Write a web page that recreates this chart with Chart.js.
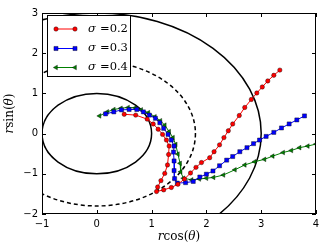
<!DOCTYPE html>
<html lang="en">
<head>
<meta charset="UTF-8">
<title>Spiral trajectories</title>
<script src="https://cdn.jsdelivr.net/npm/chart.js"></script>
<style>
  body { margin: 0; background: #fff; }
  canvas { display: block; }
</style>
</head>
<body>
<canvas id="plot" width="332" height="249"></canvas>
<script>
// tick values
const xTicks = [-1, 0, 1, 2, 3, 4];
const yTicks = [-2, -1, 0, 1, 2, 3];

// reference circles around the origin
const circleRadii = [1, 1.8, 3];
const circleDashed = [false, true, false];

// sigma = 0.2 (red circles)
const s02X = [0.50, 0.71, 0.92, 1.03, 1.12, 1.20, 1.27, 1.32, 1.31, 1.29, 1.24, 1.17, 1.11, 1.09,
              1.22, 1.36, 1.48, 1.60, 1.71, 1.81, 1.91, 2.06, 2.14, 2.24, 2.32, 2.40, 2.48, 2.60,
              2.70, 2.82, 2.92, 3.02, 3.12, 3.23, 3.34];
const s02Y = [0.48, 0.46, 0.36, 0.24, 0.11, -0.02, -0.16, -0.31, -0.52, -0.78, -0.99, -1.17, -1.33, -1.44,
              -1.40, -1.34, -1.26, -1.13, -0.98, -0.84, -0.72, -0.60, -0.45, -0.28, -0.10, 0.07, 0.24, 0.45,
              0.65, 0.85, 1.01, 1.16, 1.31, 1.45, 1.58];

// sigma = 0.3 (blue squares)
const s03X = [0.16, 0.31, 0.45, 0.59, 0.73, 0.85, 0.96, 1.07, 1.15, 1.22, 1.30, 1.36, 1.41, 1.40, 1.41,
              1.41, 1.42, 1.47, 1.62, 1.76, 1.88, 2.00, 2.12, 2.24, 2.37, 2.48, 2.61, 2.74, 2.86, 2.97,
              3.09, 3.23, 3.37, 3.51, 3.65, 3.79];
const s03Y = [0.49, 0.54, 0.59, 0.60, 0.60, 0.54, 0.46, 0.38, 0.27, 0.13, -0.02, -0.16, -0.31, -0.46, -0.68,
              -0.92, -1.12, -1.23, -1.22, -1.19, -1.08, -1.01, -0.93, -0.80, -0.66, -0.57, -0.45, -0.35, -0.25, -0.16,
              -0.07, 0.03, 0.14, 0.24, 0.34, 0.44];

// sigma = 0.4 (green triangles)
const s04X = [0.05, 0.19, 0.31, 0.44, 0.57, 0.70, 0.81, 0.94, 1.06, 1.16, 1.24, 1.32, 1.39, 1.44, 1.48,
              1.52, 1.53, 1.58, 1.73, 1.87, 2.00, 2.13, 2.31, 2.52, 2.70, 2.88, 3.06, 3.21, 3.40, 3.55,
              3.70, 3.85, 4.00];
const s04Y = [0.44, 0.54, 0.60, 0.63, 0.65, 0.64, 0.59, 0.52, 0.42, 0.32, 0.21, 0.05, -0.10, -0.27, -0.51,
              -0.74, -0.95, -1.11, -1.15, -1.13, -1.11, -1.09, -1.03, -0.90, -0.78, -0.70, -0.64, -0.56, -0.47, -0.42,
              -0.35, -0.31, -0.26];

const seriesLabels = ['0.2', '0.3', '0.4'];

function pts(xs, ys) {
    return xs.map((v, i) => ({ x: v, y: ys[i] }));
}

function series(xs, ys, color, style, radius, rotation) {
    return {
        data: pts(xs, ys),
        showLine: true,
        borderColor: color,
        borderWidth: 1,
        pointStyle: style,
        pointRadius: radius,
        pointRotation: rotation,
        pointBackgroundColor: color,
        pointBorderColor: '#000',
        pointBorderWidth: 0.4,
        pointHoverRadius: radius
    };
}

const datasets = [
    series(s02X, s02Y, '#ff0000', 'circle', 2.2, 0),
    series(s03X, s03Y, '#0000ff', 'rect', 2.9, 0),
    series(s04X, s04Y, '#008000', 'triangle', 2.7, -90)
];

const serif = '"DejaVu Serif", serif';
const sans = '"DejaVu Sans", sans-serif';

// draws a run of text pieces in different fonts, centred on x
function drawPieces(ctx, pieces, x, y) {
    let w = 0;
    pieces.forEach(p => { ctx.font = p.f; p.w = ctx.measureText(p.t).width; w += p.w; });
    let cx = x - w / 2;
    pieces.forEach(p => {
        ctx.font = p.f;
        ctx.fillText(p.t, cx, y);
        cx += p.w;
    });
}

function mathLabel(fn) {
    return [
        { t: 'r', f: 'italic 12px ' + serif },
        { t: fn, f: '12px ' + serif },
        { t: '(', f: '12px ' + serif },
        { t: '\u03b8', f: 'italic 12px ' + serif },
        { t: ')', f: '12px ' + serif }
    ];
}

const decor = {
    id: 'decor',
    beforeDatasetsDraw(chart) {
        const { ctx, chartArea: a, scales: { x, y } } = chart;
        ctx.save();
        ctx.beginPath();
        ctx.rect(a.left, a.top, a.right - a.left, a.bottom - a.top);
        ctx.clip();
        const cx = x.getPixelForValue(0), cy = y.getPixelForValue(0);
        circleRadii.forEach((r, i) => {
            const rx = x.getPixelForValue(r) - cx;
            const ry = cy - y.getPixelForValue(r);
            ctx.beginPath();
            ctx.ellipse(cx, cy, rx, ry, 0, 0, Math.PI * 2);
            ctx.setLineDash(circleDashed[i] ? [4, 3] : []);
            ctx.lineWidth = 1.5;
            ctx.strokeStyle = '#000';
            ctx.stroke();
        });
        ctx.restore();
    },
    afterDraw(chart) {
        const { ctx, chartArea: a, scales: { x, y } } = chart;
        ctx.save();
        // frame
        ctx.strokeStyle = '#000';
        ctx.lineWidth = 1;
        ctx.strokeRect(a.left + 0.5, a.top + 0.5, a.right - a.left - 1, a.bottom - a.top - 1);
        // inward ticks on all four sides
        ctx.beginPath();
        xTicks.forEach(v => {
            const p = Math.round(x.getPixelForValue(v)) + 0.5;
            ctx.moveTo(p, a.bottom); ctx.lineTo(p, a.bottom - 4);
            ctx.moveTo(p, a.top); ctx.lineTo(p, a.top + 4);
        });
        yTicks.forEach(v => {
            const p = Math.round(y.getPixelForValue(v)) + 0.5;
            ctx.moveTo(a.left, p); ctx.lineTo(a.left + 4, p);
            ctx.moveTo(a.right, p); ctx.lineTo(a.right - 4, p);
        });
        ctx.stroke();

        // axis titles
        ctx.fillStyle = '#000';
        ctx.textBaseline = 'middle';
        ctx.textAlign = 'left';
        drawPieces(ctx, mathLabel('cos'), (a.left + a.right) / 2, 237);
        ctx.save();
        ctx.translate(10, (a.top + a.bottom) / 2);
        ctx.rotate(-Math.PI / 2);
        drawPieces(ctx, mathLabel('sin'), 0, 0);
        ctx.restore();

        // legend
        const bx = 47.5, by = 15.5, bw = 83, bh = 61;
        ctx.fillStyle = '#fff';
        ctx.fillRect(bx, by, bw, bh);
        ctx.strokeStyle = '#000';
        ctx.lineWidth = 1;
        ctx.strokeRect(bx, by, bw, bh);
        const rows = [29, 48.5, 67.5];
        datasets.forEach((ds, i) => {
            const ry = rows[i];
            ctx.strokeStyle = ds.borderColor;
            ctx.lineWidth = 1;
            ctx.beginPath();
            ctx.moveTo(56, ry); ctx.lineTo(75, ry);
            ctx.stroke();
            [56, 75].forEach(px => {
                ctx.fillStyle = ds.pointBackgroundColor;
                ctx.strokeStyle = '#000';
                ctx.lineWidth = ds.pointBorderWidth;
                Chart.helpers.drawPoint(ctx, {
                    pointStyle: ds.pointStyle,
                    radius: ds.pointRadius,
                    rotation: ds.pointRotation,
                    borderWidth: ds.pointBorderWidth
                }, px, ry);
            });
            ctx.fillStyle = '#000';
            ctx.textAlign = 'left';
            ctx.font = 'italic 11.5px ' + serif;
            ctx.fillText('\u03c3', 88, ry);
            ctx.font = '11.5px ' + serif;
            ctx.fillText('=' + seriesLabels[i], 100, ry);
        });
        ctx.restore();
    }
};

function tickText(v) {
    return v < 0 ? '\u2212' + Math.abs(v) : String(v);
}

new Chart(document.getElementById('plot').getContext('2d'), {
    type: 'scatter',
    data: { datasets: datasets },
    options: {
        responsive: false,
        animation: false,
        devicePixelRatio: 1,
        layout: { padding: { left: 0, right: 16, top: 13, bottom: 0 } },
        plugins: {
            legend: { display: false },
            tooltip: { enabled: false }
        },
        scales: {
            x: {
                type: 'linear',
                min: -1,
                max: 4,
                afterFit: s => { s.height = 35; },
                afterBuildTicks: s => { s.ticks = xTicks.map(v => ({ value: v })); },
                grid: { display: false, drawTicks: false },
                border: { display: false },
                ticks: {
                    color: '#000',
                    padding: 4,
                    maxRotation: 0,
                    font: { family: sans, size: 10 },
                    callback: tickText
                }
            },
            y: {
                type: 'linear',
                min: -2,
                max: 3,
                afterFit: s => { s.width = 42; },
                afterBuildTicks: s => { s.ticks = yTicks.map(v => ({ value: v })); },
                grid: { display: false, drawTicks: false },
                border: { display: false },
                ticks: {
                    color: '#000',
                    padding: 4,
                    font: { family: sans, size: 10 },
                    callback: tickText
                }
            }
        }
    },
    plugins: [decor]
});
</script>
</body>
</html>
